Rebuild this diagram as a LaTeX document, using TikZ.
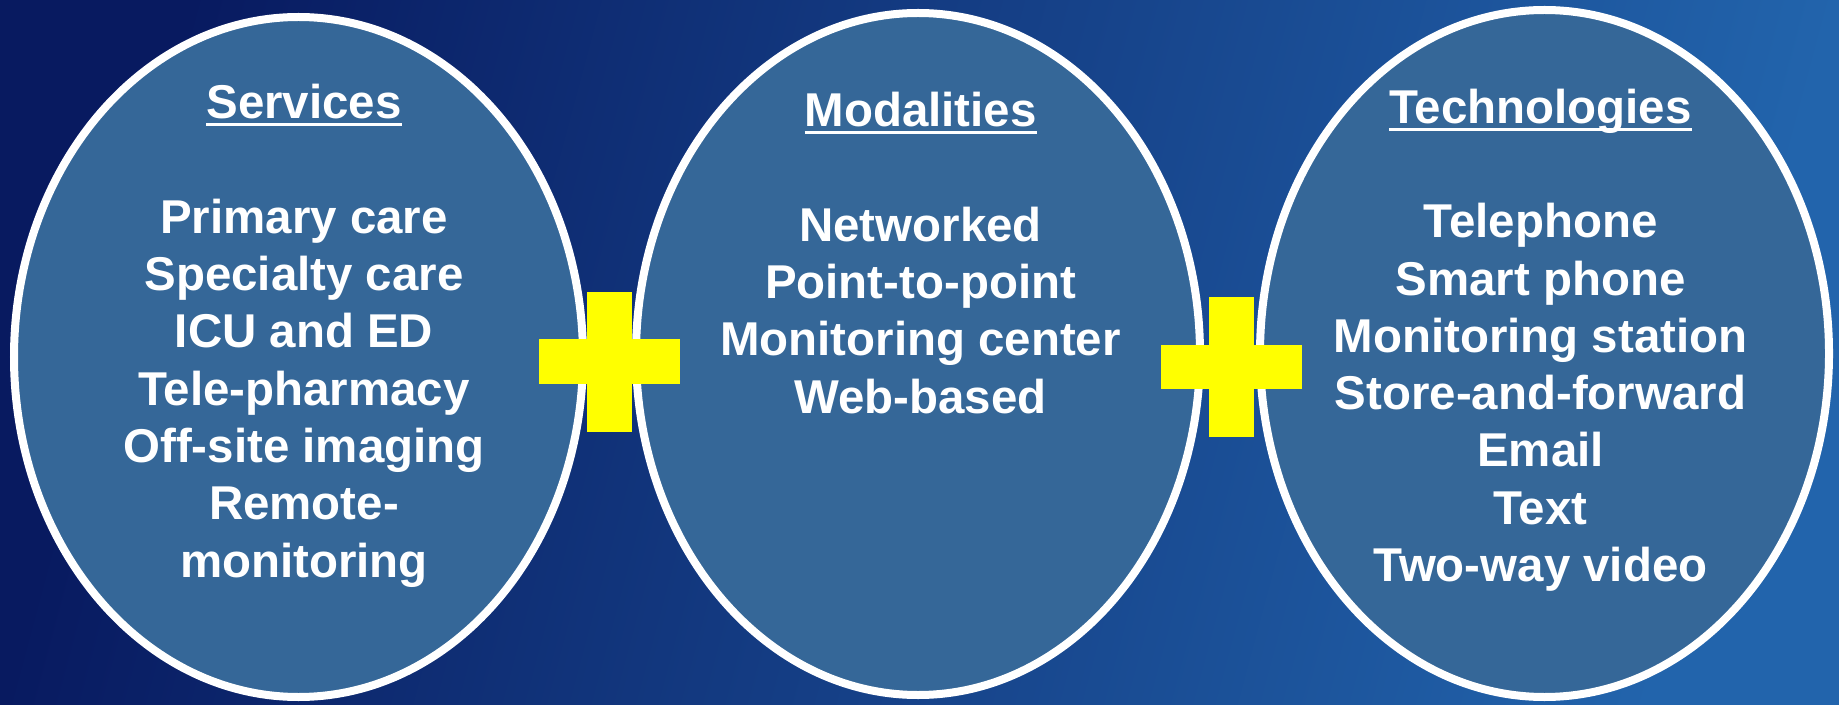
\documentclass[tikz,border=0pt]{standalone}
\usepackage{fontspec}
\setmainfont{Liberation Sans}
\usetikzlibrary{positioning}
\definecolor{bgdark}{RGB}{8,26,96}
\definecolor{bglight}{RGB}{34,100,172}
\definecolor{ovalblue}{RGB}{53,103,152}
\definecolor{plusyellow}{RGB}{255,255,0}
\newsavebox{\ulbox}
\newcommand{\ulined}[1]{\sbox{\ulbox}{#1}\rlap{\rule[-2.1pt]{\wd\ulbox}{0.85pt}}\usebox{\ulbox}}

\tikzset{
  oval/.style={draw=white, line width=0.08cm, fill=ovalblue},
  list/.style={text=white, font=\bfseries\fontsize{13.5}{16.3}\selectfont,
    align=center, inner sep=0pt, anchor=base}
}

\begin{document}
\begin{tikzpicture}

\useasboundingbox (0,0) rectangle (18.39,7.04);
\shade[left color=bgdark, right color=bglight, shading angle=75] (0,0) rectangle (18.39,7.04);

% ovals
\draw[oval] (2.985,3.47) ellipse [x radius=2.845, y radius=3.40];
\draw[oval] (9.18,3.50) ellipse [x radius=2.82, y radius=3.41];
\draw[oval] (15.445,3.505) ellipse [x radius=2.845, y radius=3.435];

% plus signs
\fill[plusyellow] (5.39,3.20) rectangle (6.80,3.65);
\fill[plusyellow] (5.87,2.72) rectangle (6.32,4.12);

\fill[plusyellow] (11.61,3.15) rectangle (13.02,3.59);
\fill[plusyellow] (12.09,2.67) rectangle (12.54,4.07);

% nodes (anchored at the last line)
\node[list] (services) at (3.04,1.27)
{\ulined{Services}\\[0.573cm]Primary care\\Specialty care\\ICU and ED\\Tele-pharmacy\\Off-site imaging\\Remote-\\monitoring};

\node[list] (modalities) at (9.205,2.91)
{\ulined{Modalities}\\[0.573cm]Networked\\Point-to-point\\Monitoring center\\Web-based};

\node[list] (technologies) at (15.405,1.225)
{\ulined{Technologies}\\[0.573cm]Telephone\\Smart phone\\Monitoring station\\Store-and-forward\\Email\\Text\\Two-way video};

\end{tikzpicture}
\end{document}
